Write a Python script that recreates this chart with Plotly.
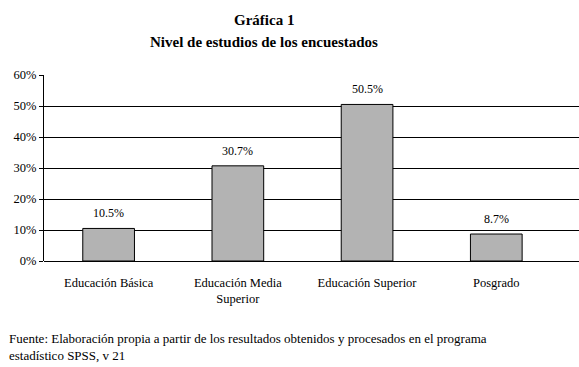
import plotly.graph_objects as go

categories = ["Educación Básica", "Educación Media<br>Superior", "Educación Superior", "Posgrado"]
values = [10.5, 30.7, 50.5, 8.7]
value_labels = ["10.5%", "30.7%", "50.5%", "8.7%"]
y_ticks = [0, 10, 20, 30, 40, 50, 60]
y_tick_labels = ["0%", "10%", "20%", "30%", "40%", "50%", "60%"]

FONT = "Liberation Serif, Times New Roman, serif"

fig = go.Figure()
fig.add_trace(go.Bar(
    x=list(range(len(categories))),
    y=values,
    width=0.4,
    marker=dict(color="#b3b3b3", line=dict(color="#000000", width=1)),
    hoverinfo="skip",
))

for i, (v, lab) in enumerate(zip(values, value_labels)):
    fig.add_annotation(x=i, y=v, text=lab, showarrow=False, yanchor="bottom",
                       yshift=6, font=dict(family=FONT, size=12, color="#000"))

fig.update_layout(
    width=579, height=367,
    margin=dict(l=44, r=0, t=75, b=106),
    paper_bgcolor="white", plot_bgcolor="white",
    showlegend=False,
    font=dict(family=FONT, color="#000"),
    bargap=0.6,
)
fig.update_xaxes(
    range=[-0.5, 3.64],
    tickvals=list(range(len(categories))),
    ticktext=categories,
    tickfont=dict(family=FONT, size=12.5, color="#000"),
    showgrid=False, showline=False, ticks="", zeroline=False,
    ticklabelstandoff=12,
)
fig.update_yaxes(
    range=[0, 60],
    tickvals=y_ticks, ticktext=y_tick_labels,
    tickfont=dict(family=FONT, size=12.5, color="#000"),
    showgrid=True, gridcolor="#000", gridwidth=1,
    showline=True, linecolor="#000", linewidth=1,
    ticks="outside", ticklen=4, tickcolor="#000",
    zeroline=True, zerolinecolor="#000", zerolinewidth=1,
)

TITLE_X = (264 - 44) / 535
fig.add_annotation(xref="paper", yref="paper", x=TITLE_X, y=1,
                   yshift=55, text="<b>Gráfica 1</b>", showarrow=False,
                   font=dict(family=FONT, size=15, color="#000"), yanchor="middle")
fig.add_annotation(xref="paper", yref="paper", x=TITLE_X, y=1,
                   yshift=33, text="<b>Nivel de estudios de los encuestados</b>", showarrow=False,
                   font=dict(family=FONT, size=15, color="#000"), yanchor="middle")
fig.add_annotation(xref="paper", yref="paper", x=-44 / 535 + 7 / 535, y=0,
                   yshift=-86, xanchor="left", yanchor="middle", align="left",
                   text="Fuente: Elaboración propia a partir de los resultados obtenidos y procesados en el programa<br>estadístico SPSS, v 21",
                   showarrow=False, font=dict(family=FONT, size=13, color="#000"))

fig.write_html("out.html", config={"displayModeBar": False},
               post_script="document.body.style.margin='0px';document.body.style.overflow='hidden';")
